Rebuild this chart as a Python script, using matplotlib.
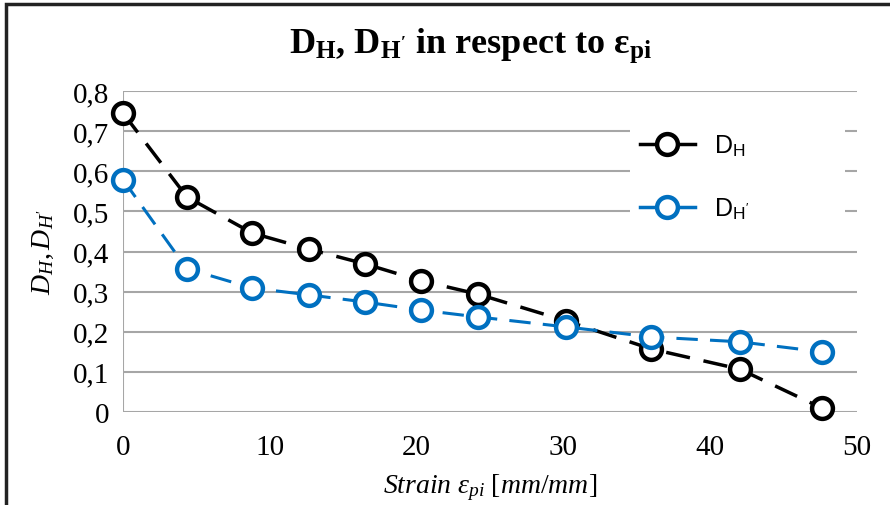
import matplotlib
matplotlib.use("Agg")
import matplotlib.pyplot as plt
from matplotlib.patches import Rectangle
from matplotlib.lines import Line2D

strain = [0, 4.35, 8.8, 12.65, 16.5, 20.3, 24.15, 30.2, 36.0, 42.0, 47.6]
d_h = [0.745, 0.536, 0.446, 0.406, 0.369, 0.327, 0.294, 0.227, 0.157, 0.107, 0.01]
d_h_prime = [0.579, 0.357, 0.309, 0.292, 0.274, 0.254, 0.237, 0.212, 0.187, 0.175, 0.150]
y_ticks = [0, 0.1, 0.2, 0.3, 0.4, 0.5, 0.6, 0.7, 0.8]
y_tick_labels = ["0", "0,1", "0,2", "0,3", "0,4", "0,5", "0,6", "0,7", "0,8"]
x_ticks = [0, 10, 20, 30, 40, 50]

plt.rcParams['mathtext.fontset'] = 'custom'
plt.rcParams['mathtext.rm'] = 'Liberation Serif'
plt.rcParams['mathtext.it'] = 'Liberation Serif:italic'
plt.rcParams['mathtext.bf'] = 'Liberation Serif:bold'

serif = 'Liberation Serif'
blue = '#0070C0'
grid_c = '#A6A6A6'

fig = plt.figure(figsize=(8.9, 5.06), dpi=100)
ax = fig.add_axes([123/890, 1-413/506, (857-123)/890, (413-92)/506])

for yv in y_ticks:
    ax.axhline(yv, color=grid_c, lw=1.5, zorder=1)
ax.axvline(0, color=grid_c, lw=1.5, zorder=1)

l1, = ax.plot(strain, d_h, color='black', lw=2.5, dashes=(7, 4), marker='o',
              markersize=15, markerfacecolor='white', markeredgecolor='black',
              markeredgewidth=3.2, clip_on=False, zorder=3)
l2, = ax.plot(strain, d_h_prime, color=blue, lw=2.2, dashes=(7, 4), marker='o',
              markersize=15, markerfacecolor='white', markeredgecolor=blue,
              markeredgewidth=3.2, clip_on=False, zorder=4)

ax.set_xlim(0, 50)
ax.set_ylim(0, 0.8)
ax.set_yticks(y_ticks)
ax.set_yticklabels(y_tick_labels)
ax.set_xticks(x_ticks)
for s in ax.spines.values():
    s.set_visible(False)
ax.tick_params(length=0, labelsize=21)
for lab in ax.get_xticklabels() + ax.get_yticklabels():
    lab.set_fontfamily(serif)
ax.tick_params(axis='x', pad=16)
ax.tick_params(axis='y', pad=10)

ax.set_xlabel(r"$Strain\ ε_{pi}\ [mm/mm]$", fontsize=20, labelpad=8)
ax.set_ylabel(r"$D_H, D_{H'}$", fontsize=20, labelpad=12)

fig.text(470/890, 1-46/506, r"D$_\mathregular{H}$, D$_\mathregular{H'}$ in respect to ε$_\mathregular{pi}$",
         ha='center', va='center', fontsize=26, fontweight='bold', family=serif)

# white legend background
bg = Rectangle(((630-123)/734, 1-(230-92)/321), 215/734, 112/321, transform=ax.transAxes,
               facecolor='white', edgecolor='none', zorder=2)
ax.add_patch(bg)

leg = ax.legend([Line2D([0], [0], color='black', lw=2.5, marker='o', markersize=15,
                        markerfacecolor='white', markeredgewidth=3.2),
                 Line2D([0], [0], color=blue, lw=2.5, marker='o', markersize=15,
                        markerfacecolor='white', markeredgecolor=blue, markeredgewidth=3.2)],
                [r"D$_\mathregular{H}$", r"D$_\mathregular{H'}$"],
                loc='upper left', bbox_to_anchor=((612-123)/(857-123), 1-(106-92)/(413-92)),
                frameon=False, prop={'family': 'Liberation Sans', 'size': 18}, handlelength=2.2,
                labelspacing=1.5, borderpad=0.6, handletextpad=0.8)
leg.set_zorder(5)

fig.add_artist(Rectangle((6/890, -0.1), 1.2, 1 - 5/506 + 0.1, transform=fig.transFigure,
                         fill=False, edgecolor='#222222', lw=2.5))

fig.savefig("out.png", dpi=100)
